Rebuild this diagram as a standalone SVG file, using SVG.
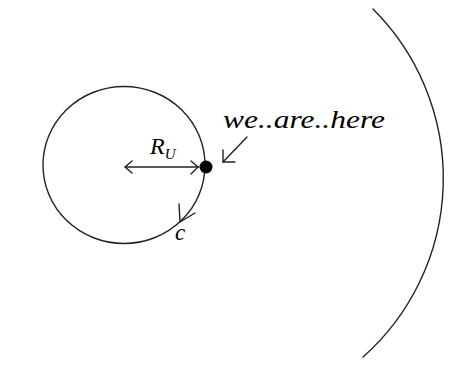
<svg xmlns="http://www.w3.org/2000/svg" width="454" height="376" viewBox="0 0 454 376">
<style>
.ln{fill:none;stroke:#222;stroke-width:1.4;stroke-linecap:round;stroke-linejoin:round}
.t{font-family:"Liberation Serif","Times New Roman",serif;font-style:italic;fill:#000}
</style>
<rect width="454" height="376" fill="#fff"/>
<g id="universe-edge"><path class="ln" d="M 373 9 A 239 239 0 0 1 363 357"/></g>
<g id="orbit"><ellipse class="ln" cx="124" cy="165" rx="81" ry="78.5"/></g>
<g id="we-dot"><circle cx="206" cy="167" r="6.5" fill="#000"/></g>
<g id="label-here"><text class="t" x="223" y="128" font-size="25" textLength="162" lengthAdjust="spacingAndGlyphs">we..are..here</text></g>
<g id="label-R"><text class="t" x="150" y="154" font-size="24">R<tspan font-size="15" dy="5">U</tspan></text></g>
<g id="label-c"><text class="t" x="175" y="240" font-size="23">c</text></g>
<g id="connectors">
<path class="ln" d="M 125 167 L 199 167"/>
<path class="ln" d="M 132 161 L 125 167 L 132 173"/>
<path class="ln" d="M 191 161 L 198 167 L 191 174"/>
<path class="ln" d="M 247 137 L 223 162"/>
<path class="ln" d="M 223 150 L 223 162 L 235 162"/>
<path class="ln" d="M 179 204 L 180 222 L 195 213"/>
</g>
</svg>
